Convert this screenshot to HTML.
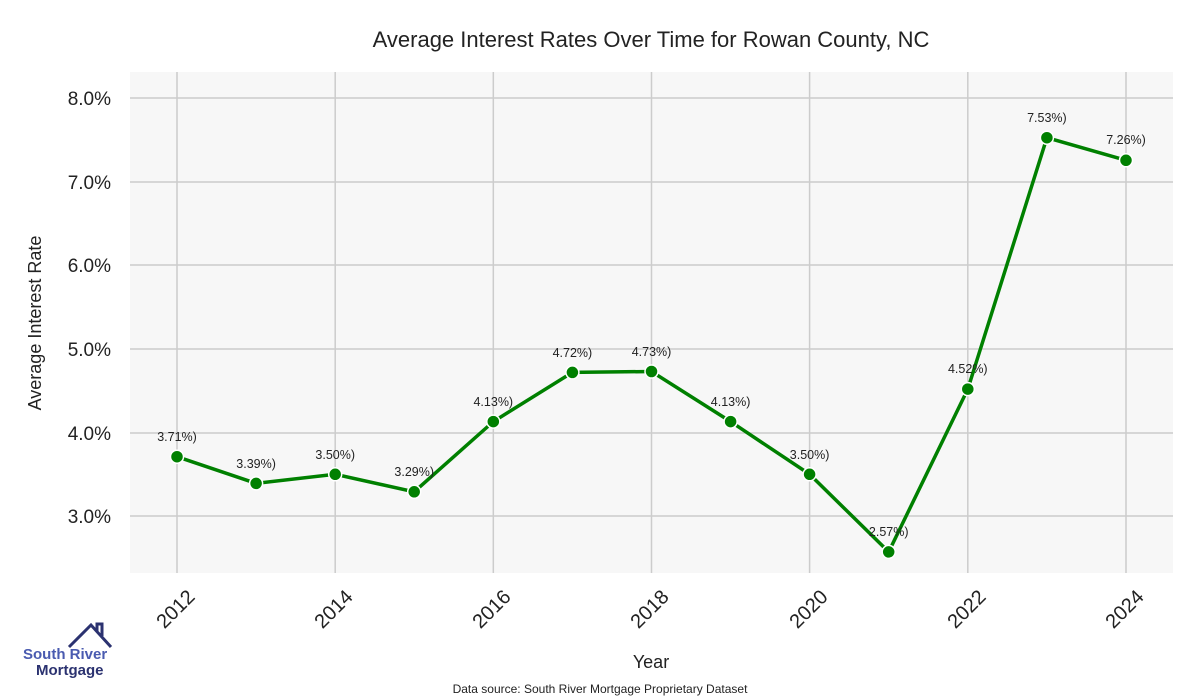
<!DOCTYPE html>
<html><head><meta charset="utf-8"><style>body{margin:0;background:#fff}svg{display:block}text{font-family:"Liberation Sans",sans-serif}</style></head><body>
<svg width="1200" height="700" viewBox="0 0 1200 700">
<rect width="1200" height="700" fill="#fff"/>
<rect x="130" y="72" width="1043" height="501" fill="#f7f7f7"/>
<g stroke="#cccccc" stroke-width="1.5">
<line x1="130" x2="1173" y1="98" y2="98"/><line x1="130" x2="1173" y1="182" y2="182"/><line x1="130" x2="1173" y1="265" y2="265"/><line x1="130" x2="1173" y1="349" y2="349"/><line x1="130" x2="1173" y1="433" y2="433"/><line x1="130" x2="1173" y1="516" y2="516"/>
<line x1="177" x2="177" y1="72" y2="573"/><line x1="335.2" x2="335.2" y1="72" y2="573"/><line x1="493.3" x2="493.3" y1="72" y2="573"/><line x1="651.5" x2="651.5" y1="72" y2="573"/><line x1="809.6" x2="809.6" y1="72" y2="573"/><line x1="967.8" x2="967.8" y1="72" y2="573"/><line x1="1126" x2="1126" y1="72" y2="573"/>
</g>
<text x="651" y="47" text-anchor="middle" font-size="22" fill="#222">Average Interest Rates Over Time for Rowan County, NC</text>
<g font-size="19" fill="#222" text-anchor="end">
<text x="111" y="105">8.0%</text><text x="111" y="189">7.0%</text><text x="111" y="272">6.0%</text><text x="111" y="356">5.0%</text><text x="111" y="440">4.0%</text><text x="111" y="523">3.0%</text>
</g>
<text transform="translate(41,323) rotate(-90)" text-anchor="middle" font-size="18" fill="#222">Average Interest Rate</text>
<g font-size="20" fill="#222" text-anchor="end">
<text transform="translate(196,598) rotate(-45)">2012</text>
<text transform="translate(354,598) rotate(-45)">2014</text>
<text transform="translate(512,598) rotate(-45)">2016</text>
<text transform="translate(670,598) rotate(-45)">2018</text>
<text transform="translate(829,598) rotate(-45)">2020</text>
<text transform="translate(987,598) rotate(-45)">2022</text>
<text transform="translate(1145,598) rotate(-45)">2024</text>
</g>
<text x="651" y="668" text-anchor="middle" font-size="18" fill="#222">Year</text>
<text x="600" y="693" text-anchor="middle" font-size="12" fill="#222">Data source: South River Mortgage Proprietary Dataset</text>
<polyline fill="none" stroke="#008000" stroke-width="3.5" points="177,456.7 256.1,483.4 335.2,474.3 414.2,491.8 493.3,421.6 572.4,372.4 651.5,371.5 730.6,421.6 809.6,474.3 888.7,551.9 967.8,389.1 1046.9,137.7 1126,160.3"/>
<g fill="#008000" stroke="#fff" stroke-width="1.5">
<circle cx="177" cy="456.7" r="6.5"/><circle cx="256.1" cy="483.4" r="6.5"/><circle cx="335.2" cy="474.3" r="6.5"/><circle cx="414.2" cy="491.8" r="6.5"/><circle cx="493.3" cy="421.6" r="6.5"/><circle cx="572.4" cy="372.4" r="6.5"/><circle cx="651.5" cy="371.5" r="6.5"/><circle cx="730.6" cy="421.6" r="6.5"/><circle cx="809.6" cy="474.3" r="6.5"/><circle cx="888.7" cy="551.9" r="6.5"/><circle cx="967.8" cy="389.1" r="6.5"/><circle cx="1046.9" cy="137.7" r="6.5"/><circle cx="1126" cy="160.3" r="6.5"/>
</g>
<g font-size="12.5" fill="#222" text-anchor="middle">
<text x="177" y="441">3.71%)</text><text x="256.1" y="468">3.39%)</text><text x="335.2" y="459">3.50%)</text><text x="414.2" y="476">3.29%)</text><text x="493.3" y="406">4.13%)</text><text x="572.4" y="357">4.72%)</text><text x="651.5" y="356">4.73%)</text><text x="730.6" y="406">4.13%)</text><text x="809.6" y="459">3.50%)</text><text x="888.7" y="536">2.57%)</text><text x="967.8" y="373">4.52%)</text><text x="1046.9" y="122">7.53%)</text><text x="1126" y="144">7.26%)</text>
</g>
<polyline fill="none" stroke="#2b3270" stroke-width="3" points="69,647 91,625 111,647"/>
<polyline fill="none" stroke="#2b3270" stroke-width="3" points="97,631 97,624 102,624 102,636"/>
<text x="23" y="659" font-size="15" font-weight="bold" fill="#4a5bb0">South River</text>
<text x="36" y="675" font-size="15" font-weight="bold" fill="#2b3270">Mortgage</text>
</svg>
</body></html>
